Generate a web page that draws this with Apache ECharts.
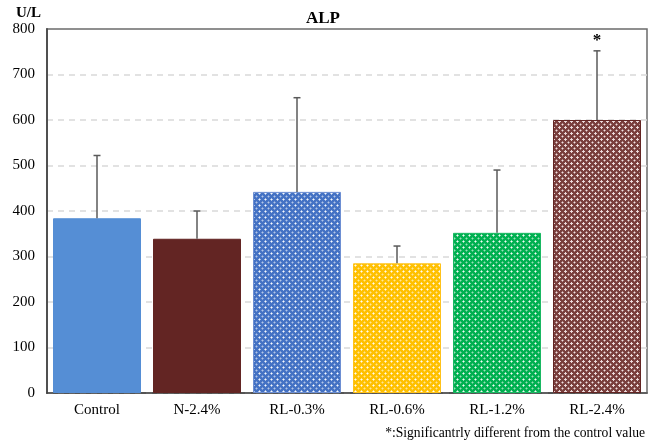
<!DOCTYPE html>
<html>
<head>
<meta charset="utf-8">
<script src="https://cdn.jsdelivr.net/npm/echarts@6/dist/echarts.min.js"></script>
<style>html,body{margin:0;padding:0;background:#fff}#c{width:651px;height:445px}</style>
</head>
<body>
<div id="c"></div>
<script>
var categories = ['Control', 'N-2.4%', 'RL-0.3%', 'RL-0.6%', 'RL-1.2%', 'RL-2.4%'];
var means = [384, 339, 442, 285, 352, 600];
var sds = [138, 61, 207, 38, 138, 152];
var sig = ['', '', '', '', '', '*'];
var yTicks = [0, 800, 100];

var FONT = '"Liberation Serif","Times New Roman",serif';

function pattern(base, light, k) {
  var c = document.createElement('canvas');
  c.width = 6; c.height = 6;
  var g = c.getContext('2d');
  g.fillStyle = base; g.fillRect(0, 0, 6, 6);
  g.fillStyle = light;
  g.globalAlpha = 0.95; g.fillRect(1, 1, 1, 1);
  g.globalAlpha = Math.min(1, 0.55 * k);
  g.fillRect(0, 1, 1, 1); g.fillRect(2, 1, 1, 1); g.fillRect(1, 0, 1, 1); g.fillRect(1, 2, 1, 1);
  g.globalAlpha = Math.min(1, 0.6 * k); g.fillRect(4, 4, 1, 1);
  g.globalAlpha = Math.min(1, 0.3 * k);
  g.fillRect(3, 4, 1, 1); g.fillRect(5, 4, 1, 1); g.fillRect(4, 3, 1, 1); g.fillRect(4, 5, 1, 1);
  return { image: c, repeat: 'repeat' };
}

var styles = [
  { color: '#558ed5', borderColor: '#558ed5' },
  { color: '#632523', borderColor: '#632523' },
  { color: pattern('#4472c4', '#ffffff', 1), borderColor: '#6d8fd3' },
  { color: pattern('#ffc000', '#ffffff', 1), borderColor: '#ffc21a' },
  { color: pattern('#00b050', '#ffffff', 1), borderColor: '#19b862' },
  { color: pattern('#7a3f3d', '#f6e8e8', 1.6), borderColor: '#632523' }
];

var barData = means.map(function (v, i) {
  return { value: v, itemStyle: { color: styles[i].color, borderColor: styles[i].borderColor, borderWidth: 1 } };
});
var errData = means.map(function (v, i) { return [i, v, sds[i]]; });

var chart = echarts.init(document.getElementById('c'), null, { renderer: 'canvas' });
chart.setOption({
  animation: false,
  title: {
    text: 'ALP', left: 301, top: 5,
    textStyle: { fontFamily: FONT, fontWeight: 'bold', fontSize: 17, color: '#000' }
  },
  grid: { left: 47, right: 4, top: 29, bottom: 52, show: true, borderColor: '#6b6b6b', borderWidth: 1.5, backgroundColor: 'transparent' },
  xAxis: {
    type: 'category', data: categories,
    axisLine: { lineStyle: { color: '#404040', width: 1.5 } },
    axisTick: { show: false },
    axisLabel: { fontFamily: FONT, fontSize: 15, color: '#000', margin: 10 }
  },
  yAxis: {
    type: 'value', min: yTicks[0], max: yTicks[1], interval: yTicks[2],
    name: 'U/L', nameLocation: 'end', nameGap: 8,
    nameTextStyle: { fontFamily: FONT, fontWeight: 'bold', fontSize: 15, color: '#000', align: 'right', padding: [0, 6, 0, 0] },
    axisLine: { show: true, lineStyle: { color: '#505050', width: 2 } },
    axisTick: { show: false },
    axisLabel: { fontFamily: FONT, fontSize: 15, color: '#000', margin: 12 },
    splitLine: { showMaxLine: false, lineStyle: { color: '#d9d9d9', type: [6, 5], width: 1.5 } }
  },
  series: [
    {
      type: 'bar', data: barData, barCategoryGap: '12%'
    },
    {
      type: 'custom', data: errData, z: 5,
      renderItem: function (params, api) {
        var i = api.value(0), m = api.value(1), s = api.value(2);
        var p0 = api.coord([i, m]);
        var p1 = api.coord([i, m + s]);
        var st = { stroke: '#5a5a5a', lineWidth: 1.5 };
        var children = [
          { type: 'line', shape: { x1: p0[0], y1: p0[1], x2: p1[0], y2: p1[1] }, style: st },
          { type: 'line', shape: { x1: p1[0] - 3.5, y1: p1[1], x2: p1[0] + 3.5, y2: p1[1] }, style: st }
        ];
        if (sig[params.dataIndex]) {
          children.push({ type: 'text', style: { text: sig[params.dataIndex], x: p1[0], y: p1[1] - 2, align: 'center', verticalAlign: 'bottom', font: 'bold 17px ' + FONT, fill: '#000' } });
        }
        return { type: 'group', children: children };
      }
    }
  ],
  graphic: [
    { type: 'text', right: 6, bottom: 5, style: { text: '*:Significantrly different from the control value', font: '13.6px ' + FONT, fill: '#000' } }
  ]
});
</script>
</body>
</html>
